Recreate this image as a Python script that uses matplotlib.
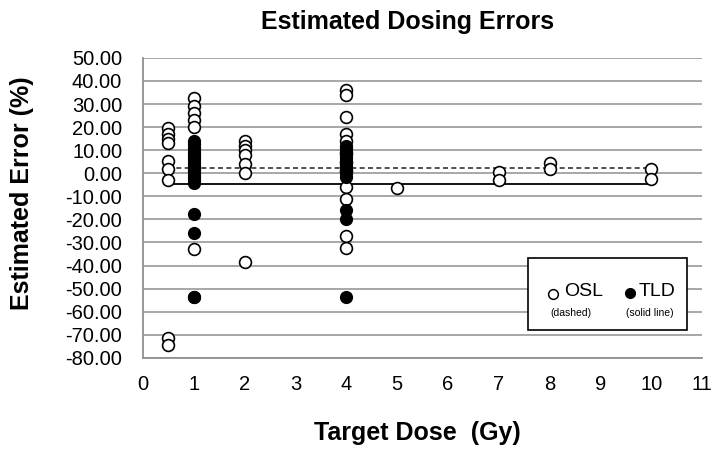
import matplotlib
matplotlib.use("Agg")
import matplotlib.pyplot as plt
from matplotlib.patches import Rectangle

plt.rcParams['font.family'] = ['Liberation Sans', 'DejaVu Sans']

# OSL (open circles)
osl_dose = [0.5, 0.5, 0.5, 0.5, 0.5, 0.5, 0.5, 0.5, 0.5,
            1, 1, 1, 1, 1, 1,
            2, 2, 2, 2, 2, 2, 2,
            4, 4, 4, 4, 4, 4, 4, 4, 4, 4, 4, 4,
            5, 7, 7, 8, 8, 10, 10]
osl_err = [19.5, 17, 15, 13, 5.5, 2, -3, -71.5, -74.5,
           32.5, 29, 26, 23, 20, -33,
           14, 12, 10, 8, 4, 0, -38.5,
           36, 34, 24.5, 17, 14, 9, 5, 1, -6, -11, -27, -32.5,
           -6.5, 0.5, -3, 4.5, 2, 2, -2.5]

# TLD (filled circles)
tld_dose = [1] * 22 + [4] * 17
tld_err = [14, 12.5, 11, 10, 9, 8, 7, 6, 5, 4, 3, 2, 1, 0, -1, -2, -3, -4,
           -17.5, -26, -53.5, -53.5,
           12, 11, 10, 9, 8, 7, 6, 5, 4, 3, 2, 1, 0, -1.5, -16, -20, -53.5]

osl_mean = 2.2
tld_mean = -4.8
line_x = [0.5, 10]

fig = plt.figure(figsize=(7.15, 4.49), dpi=100)
ax = fig.add_axes([0.200, 0.203, 0.782, 0.668])

ax.plot(line_x, [osl_mean, osl_mean], color='#333333', lw=1.2,
        linestyle=(0, (3, 2)), zorder=2)
ax.plot(line_x, [tld_mean, tld_mean], color='black', lw=1.3, zorder=2)

ax.plot(osl_dose, osl_err, 'o', ms=8.5, mfc='white', mec='black',
        mew=1.2, ls='none', zorder=3)
ax.plot(tld_dose, tld_err, 'o', ms=8.5, mfc='black', mec='black',
        mew=1.0, ls='none', zorder=4)

ax.set_xlim(0, 11)
ax.set_ylim(-80, 50)
ax.set_xticks(range(0, 12))
ax.set_yticks(range(-80, 51, 10))
ax.set_yticklabels([f"{v:.2f}" for v in range(-80, 51, 10)])
ax.tick_params(length=0, labelsize=14.5)
ax.tick_params(axis='y', pad=15)
ax.tick_params(axis='x', pad=12)

ax.yaxis.grid(True, color='#a0a0a0', lw=1.3)
ax.set_axisbelow(True)
for s in ['top', 'right']:
    ax.spines[s].set_visible(False)
for s in ['left', 'bottom']:
    ax.spines[s].set_color('#909090')
    ax.spines[s].set_linewidth(1.3)

# legend box
ax.add_patch(Rectangle((0.689, 0.093), 0.284, 0.240, transform=ax.transAxes,
                       facecolor='white', edgecolor='black', lw=1.2,
                       zorder=5, clip_on=False))
ax.plot([0.733], [0.213], 'o', ms=7, mfc='white', mec='black', mew=1.1,
        transform=ax.transAxes, zorder=6)
ax.plot([0.871], [0.217], 'o', ms=7, mfc='black', mec='black',
        transform=ax.transAxes, zorder=6)
ax.text(0.753, 0.220, "OSL", fontsize=14, transform=ax.transAxes,
        va='center', ha='left', zorder=6)
ax.text(0.886, 0.220, "TLD", fontsize=14, transform=ax.transAxes,
        va='center', ha='left', zorder=6)
ax.text(0.766, 0.150, "(dashed)", fontsize=7.5, transform=ax.transAxes,
        va='center', ha='center', zorder=6)
ax.text(0.907, 0.150, "(solid line)", fontsize=7.5, transform=ax.transAxes,
        va='center', ha='center', zorder=6)

fig.text(408 / 715, 1 - 22 / 449, "Estimated Dosing Errors", fontsize=18,
         fontweight='bold', ha='center', va='center')
fig.text(417 / 715, 1 - 433 / 449, "Target Dose  (Gy)", fontsize=18,
         fontweight='bold', ha='center', va='center')
fig.text(22 / 715, 1 - 193 / 449, "Estimated Error (%)", fontsize=18,
         fontweight='bold', ha='center', va='center', rotation=90)

fig.savefig("out.png", dpi=100)
